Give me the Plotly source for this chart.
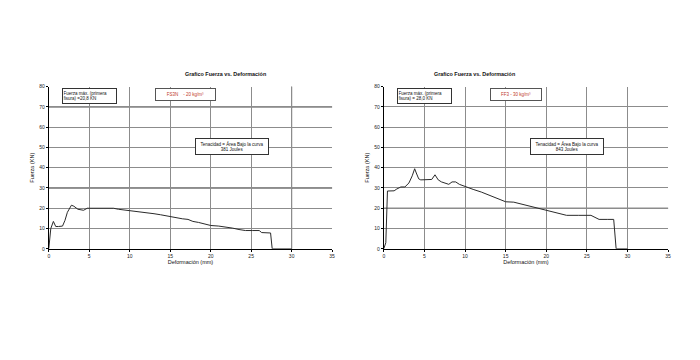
import plotly.graph_objects as go

# ---- data ----
left_x = [0, 0.25, 0.57, 0.86, 1.2, 1.7, 2.0, 2.3, 2.8, 3.1, 3.6, 4.3, 4.75, 5.5, 6.5, 8.0, 8.6, 9.3, 10.0,
          10.8, 11.5, 12.3, 13.0, 13.8, 14.5, 15.0, 15.8, 16.5, 17.2, 17.8, 18.5, 19.2, 20.0, 21.0, 22.0,
          22.7, 23.5, 24.3, 25.2, 26.0, 26.3, 27.4, 27.6, 30.0]
left_y = [0, 10, 13.5, 11, 11, 11.2, 14, 18, 21.5, 21, 19.5, 19, 20, 20, 20, 20, 19.5, 19.2, 18.9,
          18.4, 18, 17.6, 17.3, 16.8, 16.3, 15.6, 15.3, 14.8, 14.5, 13.5, 13, 12.4, 11.5, 11.2, 10.8,
          10.2, 9.5, 9, 9, 9, 8, 7.8, 0, 0]

right_x = [0, 0.25, 0.45, 0.8, 1.27, 1.6, 2.1, 2.6, 3.1, 3.5, 3.8, 4.0, 4.3, 4.55, 5.2, 5.9, 6.3, 6.7, 7.1,
           7.6, 8.0, 8.4, 8.85, 9.3, 10.1, 11.0, 12.0, 13.0, 14.0, 15.0, 16.0, 17.0, 18.0, 19.0, 20.0,
           21.0, 22.0, 22.5, 24.0, 25.5, 26.0, 26.5, 27.5, 28.3, 28.6, 30.0]
right_y = [0, 3, 28.5, 28.5, 28.6, 29.5, 30.5, 30.5, 32.5, 36, 39.5, 37.4, 34.5, 34, 34, 34.2, 36.5, 34, 33,
           32.5, 31.8, 33, 33, 31.8, 30.5, 29.3, 28, 26.5, 25, 23.2, 23, 22, 21, 20, 19,
           18, 17.2, 16.5, 16.5, 16.5, 15.5, 14.5, 14.5, 14.5, 0, 0]

x_ticks = [0, 5, 10, 15, 20, 25, 30, 35]
y_ticks = [0, 10, 20, 30, 40, 50, 60, 70, 80]

title_text = "<b>Grafico Fuerza vs. Deformación</b>"
x_title = "Deformación (mm)"
y_title = "Fuerza (KN)"

left_notes = ["Fuerza máx. (primera<br>fisura) =20,8 KN", "FS3N    - 20 kg/m³",
              "Tenacidad = Área Bajo la curva<br>381 Joules"]
right_notes = ["Fuerza máx. (primera<br>fisura) = 28,0 KN", "FF3 - 30 kg/m³",
               "Tenacidad = Área Bajo la curva<br>843 Joules"]

# grid lines that render darker in the original picture
left_dark_h = [30, 70]
left_dark_v = [30]
right_dark_h = [20]
right_dark_v = []

FONT = "Liberation Sans, Arial, sans-serif"
LINE = "#2a2a2a"
GRID = "#8c8c8c"
DARK = "#262626"

# page body has an 8px margin: figure sits at (8, 8)
OFF = 8
W, H = 700 - 2 * OFF, 360 - 2 * OFF


def px(x):
    return (x - OFF) / W


def py(y):
    return 1 - (y - OFF) / H


fig = go.Figure()
fig.add_trace(go.Scatter(x=left_x, y=left_y, mode="lines", line=dict(color=LINE, width=1),
                         xaxis="x", yaxis="y", showlegend=False))
fig.add_trace(go.Scatter(x=right_x, y=right_y, mode="lines", line=dict(color=LINE, width=1),
                         xaxis="x2", yaxis="y2", showlegend=False))


def xax(domain, anchor):
    return dict(domain=domain, anchor=anchor, range=[0, 35], tickvals=x_ticks,
                showgrid=True, gridcolor=GRID, gridwidth=1, zeroline=False,
                showline=True, linecolor="#000", linewidth=1, ticks="outside", ticklen=2,
                tickcolor="#000", tickfont=dict(size=5, family=FONT, color="#222"),
                title=dict(text=x_title, font=dict(size=5.5, family=FONT, color="#111"), standoff=2))


def yax(domain, anchor):
    return dict(domain=domain, anchor=anchor, range=[0, 80], tickvals=y_ticks,
                showgrid=True, gridcolor=GRID, gridwidth=1, zeroline=False,
                showline=True, linecolor="#000", linewidth=1, ticks="outside", ticklen=2,
                tickcolor="#000", tickfont=dict(size=5, family=FONT, color="#222"),
                title=dict(text=y_title, font=dict(size=5.5, family=FONT, color="#111"), standoff=4))


ydom = [py(250), py(85)]
fig.update_layout(
    width=W, height=H, margin=dict(l=0, r=0, t=0, b=0),
    paper_bgcolor="white", plot_bgcolor="white",
    xaxis=xax([px(48), px(333)], "y"),
    yaxis=yax(ydom, "x"),
    xaxis2=xax([px(385), px(671)], "y2"),
    yaxis2=yax(ydom, "x2"),
)

shapes = []
for ax, ay, hs, vs in [("x", "y", left_dark_h, left_dark_v), ("x2", "y2", right_dark_h, right_dark_v)]:
    for h in hs:
        shapes.append(dict(type="line", xref=ax + " domain", yref=ay, x0=0, x1=1, y0=h, y1=h,
                           line=dict(color=DARK, width=1), layer="below"))
    for v in vs:
        shapes.append(dict(type="line", xref=ax, yref=ay + " domain", x0=v, x1=v, y0=0, y1=1,
                           line=dict(color=DARK, width=1), layer="below"))
fig.update_layout(shapes=shapes)

anns = []
for i, (notes, ax, ay, cx) in enumerate([(left_notes, "x", "y", 183), (right_notes, "x2", "y2", 519)]):
    anns.append(dict(text=title_text, xref="paper", yref="paper", x=px(cx), y=py(67),
                     showarrow=False, font=dict(size=5.4, family=FONT, color="#111")))
    anns.append(dict(text=notes[0], xref=ax, yref=ay, x=5.0, y=75.4, showarrow=False, align="left",
                     width=52, height=13, bordercolor="#333", borderwidth=1, borderpad=0.5,
                     bgcolor="white", font=dict(size=4.5, family=FONT, color="#111")))
    anns.append(dict(text=notes[1], xref=ax, yref=ay, x=16.9 if i == 0 else 16.3, y=76, showarrow=False,
                     width=58 if i == 0 else 49, height=10, bordercolor="#555", borderwidth=1, borderpad=0.5,
                     bgcolor="white", font=dict(size=4.5, family=FONT, color="#c0392b")))
    anns.append(dict(text=notes[2], xref=ax, yref=ay, x=22.6, y=50.5, showarrow=False,
                     width=71, height=14, bordercolor="#333", borderwidth=1, borderpad=0.5,
                     bgcolor="white", font=dict(size=4.5, family=FONT, color="#111")))
fig.update_layout(annotations=anns)

fig.write_html("out.html")
